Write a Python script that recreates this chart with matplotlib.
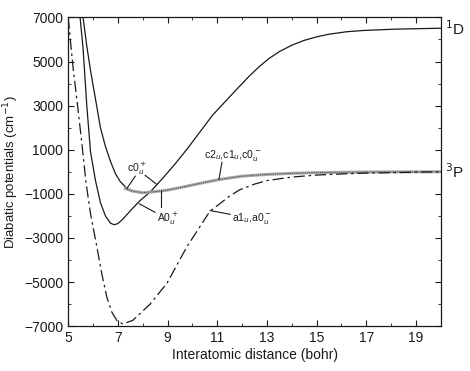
import matplotlib
matplotlib.use('Agg')
import matplotlib.pyplot as plt
from matplotlib.ticker import MultipleLocator

plt.rcParams['font.family'] = ['Liberation Sans', 'DejaVu Sans']

# A0u+ -> 1D (solid)
r_A0 = [5.48, 5.6, 5.75, 5.9, 6.1, 6.3, 6.5, 6.7, 6.85, 7.0, 7.2, 7.4, 7.6, 7.9, 8.3, 8.8,
        9.3, 9.8, 10.3, 10.8, 11.5, 11.9, 12.3, 12.7, 13.1, 13.5, 14.0, 14.5, 15.0, 15.5, 16.2, 16.9, 18.2, 20.0]
v_A0 = [7000, 5600, 3000, 900, -400, -1400, -2000, -2330, -2400, -2350, -2150, -1900, -1650, -1300, -920, -300,
        350, 1050, 1800, 2550, 3400, 3880, 4350, 4780, 5150, 5450, 5740, 5960, 6120, 6240, 6350, 6410, 6470, 6510]

# c0+ (solid, joins the 3P band)
r_c0 = [5.6, 5.75, 5.9, 6.1, 6.3, 6.5, 6.7, 6.9, 7.1, 7.36, 7.6, 8.0]
v_c0 = [7000, 5700, 4600, 3300, 2000, 1150, 480, -80, -450, -750, -880, -950]

# c2u, c1u, c0u- band -> 3P
r_band = [7.3, 7.6, 8.0, 8.5, 9.0, 9.5, 10.0, 10.5, 11.0, 11.5, 12.0, 13.0, 14.0, 15.0, 17.0, 20.0]
v_band = [-760, -880, -950, -900, -830, -720, -600, -480, -370, -280, -200, -120, -70, -40, -10, 0]

# a1u, a0u- (dash-dot)
r_a1 = [5.0, 5.2, 5.4, 5.55, 5.72, 5.9, 6.16, 6.35, 6.56, 6.75, 6.96, 7.2, 7.6, 8.3, 8.98, 9.78,
        10.7, 11.5, 11.9, 12.5, 13.0, 14.0, 15.0, 16.0, 17.0, 18.0, 20.0]
v_a1 = [7000, 4700, 2800, 1300, -500, -1900, -3430, -4600, -5700, -6350, -6740, -6900, -6740, -6000, -5050, -3400,
        -1800, -1100, -820, -560, -400, -240, -150, -100, -60, -40, 0]

fig = plt.figure(figsize=(4.7, 3.71), dpi=100)
ax = fig.add_axes([0.145, 0.121, 0.793, 0.832])

ink = '#1a1a1a'
ax.plot(r_A0, v_A0, color=ink, linewidth=0.9)
ax.plot(r_c0, v_c0, color=ink, linewidth=0.9)
ax.plot(r_band, v_band, color='#aaaaaa', linewidth=2.2)
ax.plot(r_band, v_band, color='#444444', linewidth=0.7, linestyle=(0, (1, 1.2)))
ax.plot(r_a1, v_a1, color=ink, linewidth=0.9, linestyle=(0, (9, 3, 2, 3)))

ax.set_xlim(5, 20)
ax.set_ylim(-7000, 7000)
ax.xaxis.set_minor_locator(MultipleLocator(1))
ax.yaxis.set_minor_locator(MultipleLocator(1000))
ax.set_xticks([5, 7, 9, 11, 13, 15, 17, 19])
ax.set_yticks([-7000, -5000, -3000, -1000, 1000, 3000, 5000, 7000])
ax.tick_params(which='both', direction='in', top=True, right=True, colors=ink, labelsize=10)
ax.tick_params(which='major', length=4)
ax.tick_params(which='minor', length=2.5)
for s in ax.spines.values():
    s.set_color(ink)
    s.set_linewidth(0.9)

ax.set_xlabel('Interatomic distance (bohr)', fontsize=10, color=ink, labelpad=2)
ax.set_ylabel('Diabatic potentials (cm$^{-1}$)', fontsize=9.5, color=ink, labelpad=2)

# asymptote labels
ax.text(20.15, 6500, '$^1$D', fontsize=11, va='center', ha='left', color=ink)
ax.text(20.15, 0, '$^3$P', fontsize=11, va='center', ha='left', color=ink)

lw = 0.8
fs = 7.5
ax.text(7.78, 150, 'c0$_u^+$', fontsize=fs, ha='center', va='center', color=ink)
ax.plot([7.70, 7.37], [-200, -750], color=ink, linewidth=lw)
ax.plot([8.10, 8.55], [-160, -560], color=ink, linewidth=lw)

ax.text(11.64, 750, 'c2$_u$,c1$_u$,c0$_u^-$', fontsize=fs, ha='center', va='center', color=ink)
ax.plot([11.19, 11.07], [430, -330], color=ink, linewidth=lw)

ax.text(9.0, -2160, 'A0$_u^+$', fontsize=fs, ha='center', va='center', color=ink)
ax.plot([8.50, 7.86], [-1840, -1450], color=ink, linewidth=lw)
ax.plot([8.74, 8.74], [-1610, -880], color=ink, linewidth=lw)

ax.text(12.4, -2110, 'a1$_u$,a0$_u^-$', fontsize=fs, ha='center', va='center', color=ink)
ax.plot([11.52, 10.72], [-1930, -1760], color=ink, linewidth=lw)

fig.savefig('out.png', dpi=100)
